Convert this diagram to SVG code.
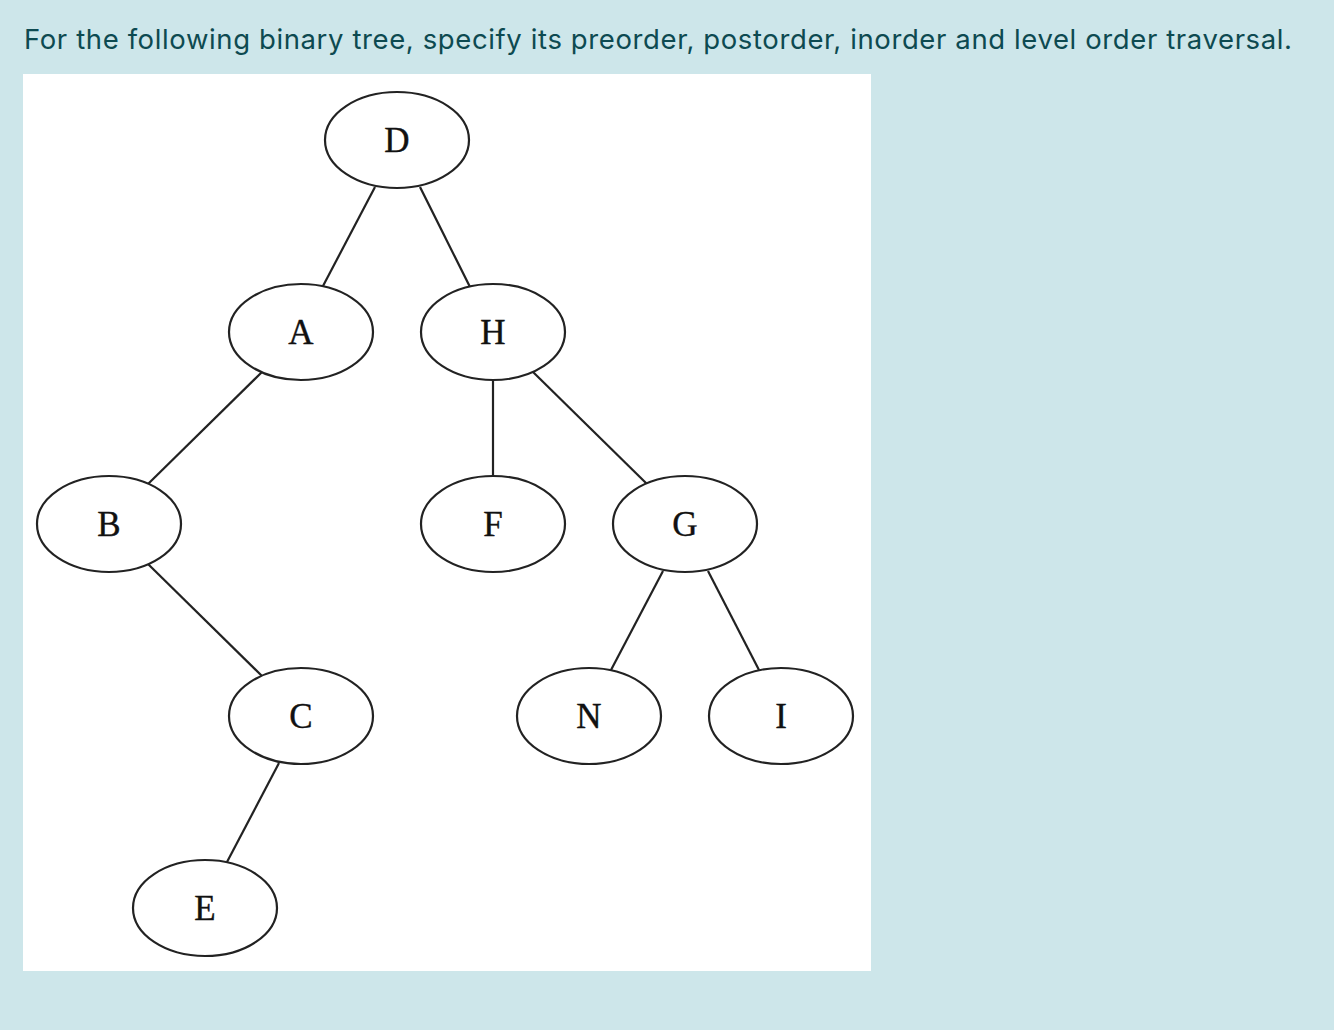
<svg xmlns="http://www.w3.org/2000/svg" width="1334" height="1030" viewBox="0 0 1334 1030">
  <style>
    .title { font-family: Inter, "Noto Sans", "Liberation Sans", sans-serif; font-size: 27.5px; fill: #0d4a51; }
    .node ellipse { fill: #ffffff; stroke: #222222; stroke-width: 2.2; }
    .node text { font-family: "Liberation Serif", "DejaVu Serif", serif; font-size: 35px; fill: #111111; text-anchor: middle; stroke: #111111; stroke-width: 0.4; }
    #edges line { stroke: #222222; stroke-width: 2.2; }
  </style>
  <rect x="0" y="0" width="1334" height="1030" fill="#cde6ea"/>
  <text class="title" x="24" y="49" textLength="1268" lengthAdjust="spacing">For the following binary tree, specify its preorder, postorder, inorder and level order traversal.</text>
  <rect x="23" y="74" width="848" height="897" fill="#ffffff"/>

  <g id="edges">
    <line x1="375" y1="187" x2="323" y2="286"/>
    <line x1="420" y1="187" x2="470" y2="287"/>
    <line x1="262" y1="372" x2="148" y2="484"/>
    <line x1="493" y1="380" x2="493" y2="476"/>
    <line x1="533" y1="372" x2="647" y2="484"/>
    <line x1="148" y1="564" x2="262" y2="676"/>
    <line x1="663" y1="571" x2="611" y2="670"/>
    <line x1="708" y1="571" x2="759" y2="670"/>
    <line x1="279" y1="763" x2="227" y2="862"/>
  </g>

  <g id="node-D" class="node"><ellipse cx="397" cy="140" rx="72" ry="48"/><text x="397" y="152">D</text></g>
  <g id="node-A" class="node"><ellipse cx="301" cy="332" rx="72" ry="48"/><text x="301" y="344">A</text></g>
  <g id="node-H" class="node"><ellipse cx="493" cy="332" rx="72" ry="48"/><text x="493" y="344">H</text></g>
  <g id="node-B" class="node"><ellipse cx="109" cy="524" rx="72" ry="48"/><text x="109" y="536">B</text></g>
  <g id="node-F" class="node"><ellipse cx="493" cy="524" rx="72" ry="48"/><text x="493" y="536">F</text></g>
  <g id="node-G" class="node"><ellipse cx="685" cy="524" rx="72" ry="48"/><text x="685" y="536">G</text></g>
  <g id="node-C" class="node"><ellipse cx="301" cy="716" rx="72" ry="48"/><text x="301" y="728">C</text></g>
  <g id="node-N" class="node"><ellipse cx="589" cy="716" rx="72" ry="48"/><text x="589" y="728">N</text></g>
  <g id="node-I" class="node"><ellipse cx="781" cy="716" rx="72" ry="48"/><text x="781" y="728">I</text></g>
  <g id="node-E" class="node"><ellipse cx="205" cy="908" rx="72" ry="48"/><text x="205" y="920">E</text></g>
</svg>
